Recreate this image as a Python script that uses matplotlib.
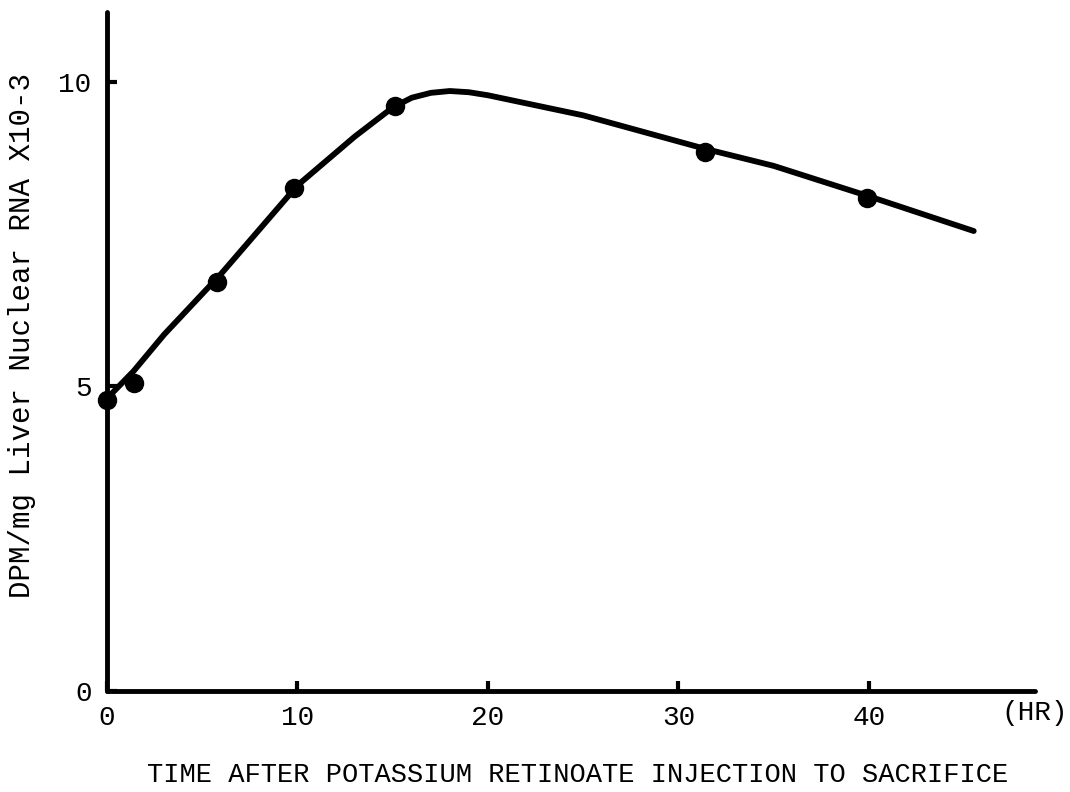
import matplotlib
matplotlib.use("Agg")
import matplotlib.pyplot as plt

# measured points
point_hours = [0, 1.4, 5.8, 9.8, 15.1, 31.4, 39.9]
point_dpm = [4.78, 5.05, 6.72, 8.25, 9.6, 8.85, 8.1]

# hand-drawn curve
curve_hours = [0, 1.4, 3, 6, 10, 13, 15, 16, 17, 18, 19, 20, 25, 31.4, 35, 40, 45.5]
curve_dpm = [4.8, 5.25, 5.85, 6.85, 8.3, 9.1, 9.58, 9.74, 9.82, 9.85, 9.83, 9.78, 9.45, 8.9, 8.62, 8.12, 7.55]

x_ticks = [0, 10, 20, 30, 40]
y_ticks = [0, 5, 10]

font = "Liberation Mono"

W, H = 1070, 792
fig = plt.figure(figsize=(W / 100, H / 100), dpi=100)
ax = fig.add_axes([0.1, 0.128, 0.867, 0.857])

ax.plot(curve_hours, curve_dpm, color="black", lw=4.2, solid_capstyle="round",
        solid_joinstyle="round", zorder=3)
ax.plot(point_hours, point_dpm, "o", color="black", ms=13, zorder=4, clip_on=False)

ax.set_xlim(0, 48.7)
ax.set_ylim(0, 11.15)

for s in ["top", "right"]:
    ax.spines[s].set_visible(False)
for s in ["left", "bottom"]:
    ax.spines[s].set_linewidth(3.5)
    ax.spines[s].set_capstyle("round")

ax.set_xticks(x_ticks)
ax.set_yticks(y_ticks)
ax.tick_params(direction="in", length=7, width=3, labelsize=20)
ax.tick_params(axis="x", pad=10)
ax.tick_params(axis="y", pad=11)
for lab in ax.get_xticklabels() + ax.get_yticklabels():
    lab.set_fontfamily(font)

fig.text(1035 / W, 1 - 713 / H, "(HR)", ha="center", va="center",
         fontsize=20, fontfamily=font)
fig.text(578 / W, 1 - 775 / H, "TIME AFTER POTASSIUM RETINOATE INJECTION TO SACRIFICE",
         ha="center", va="center", fontsize=19.5, fontfamily=font)
fig.text(22 / W, 1 - 336 / H, "DPM/mg Liver Nuclear RNA X10-3", ha="center", va="center",
         rotation=90, fontsize=21, fontfamily=font)

fig.savefig("out.png", dpi=100)
